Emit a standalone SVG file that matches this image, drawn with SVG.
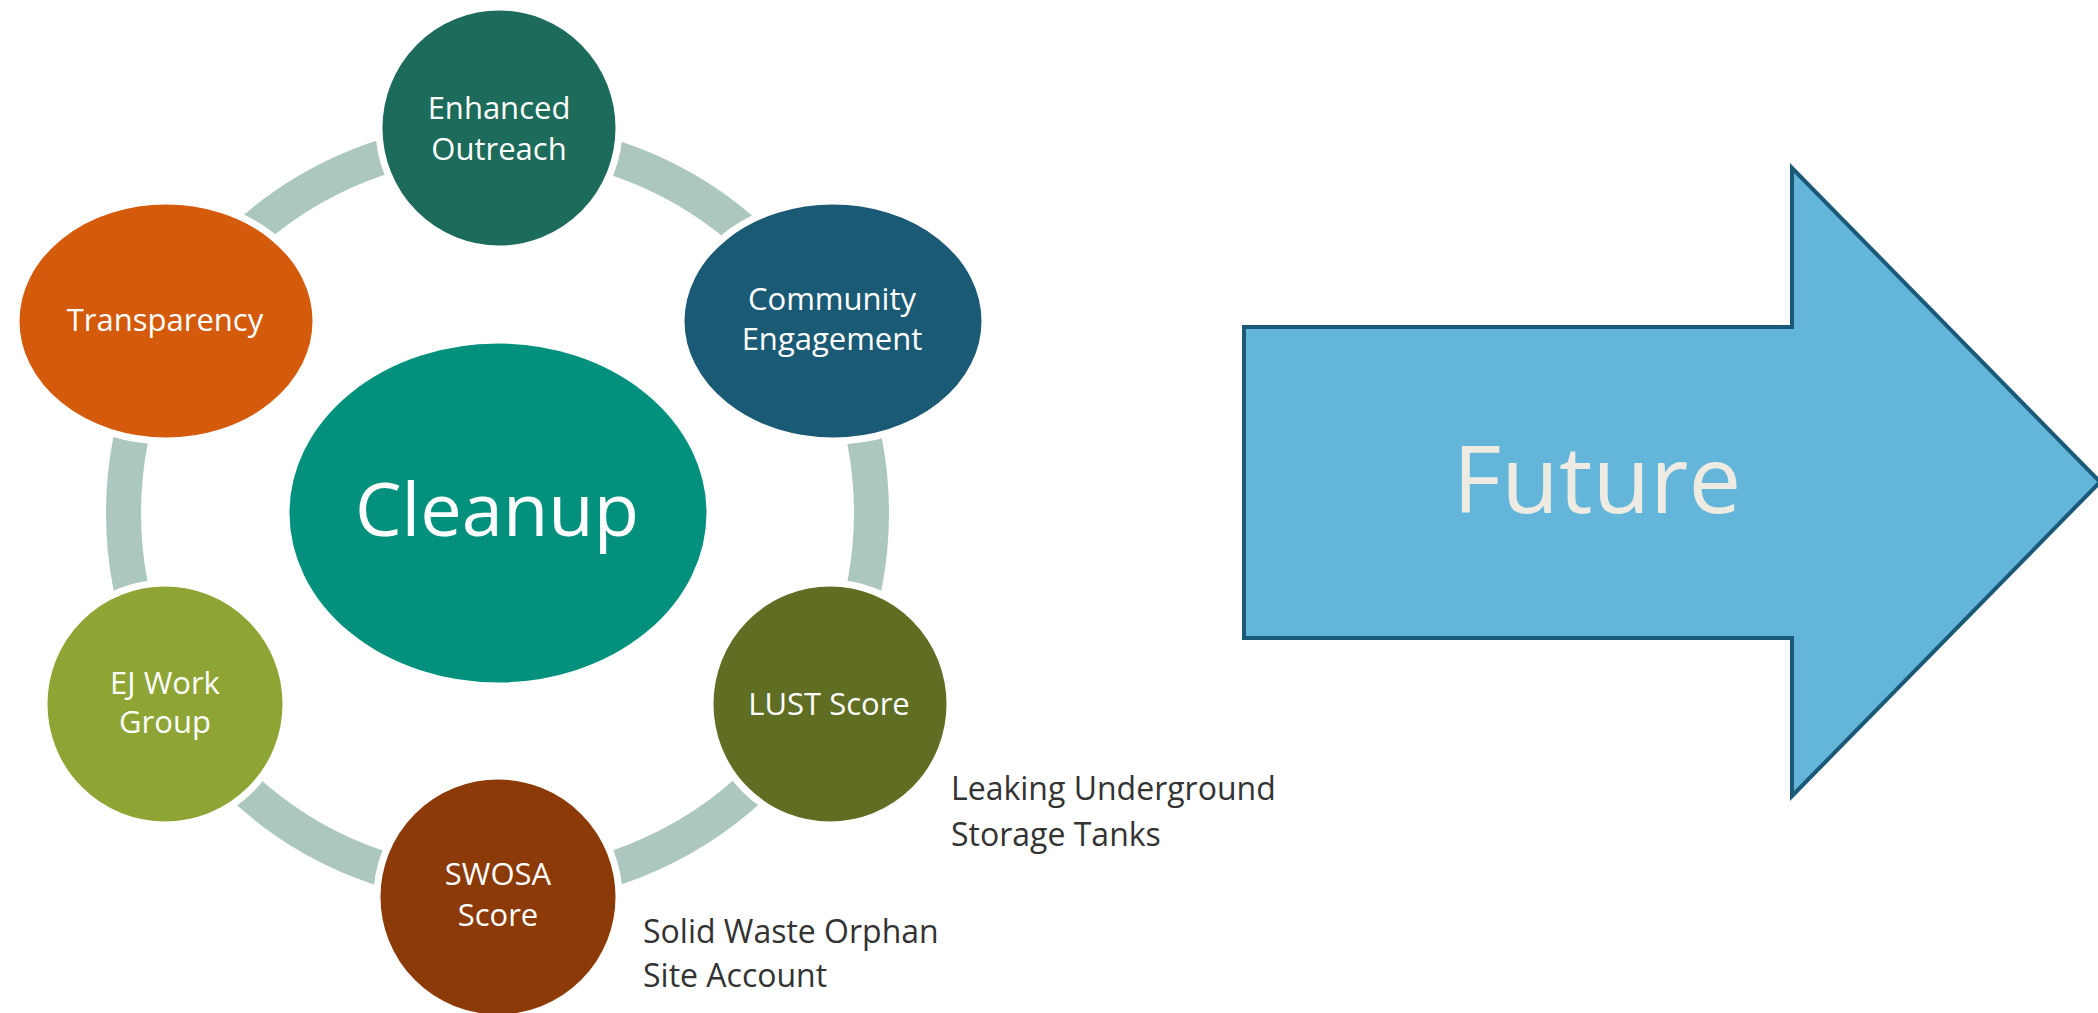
<svg xmlns="http://www.w3.org/2000/svg" width="2098" height="1013" viewBox="0 0 2098 1013">
<style>
.node{stroke:#ffffff;stroke-width:7}
.lbl{font-family:"Open Sans","Noto Sans",sans-serif;fill:#ffffff;text-anchor:middle;font-size:31px}
.cap{font-family:"Open Sans","Noto Sans",sans-serif;fill:#333333;font-size:32px}
</style>
<rect width="2098" height="1013" fill="#ffffff"/>
<g id="connectors">
<circle cx="497.5" cy="513" r="374" fill="none" stroke="#abc7c0" stroke-width="35"/>
</g>
<g id="cleanup">
<ellipse cx="498" cy="513" rx="212" ry="173" fill="#03917d" class="node"/>
<text x="497" y="536" class="lbl" style="font-size:74px">Cleanup</text>
</g>
<g id="enhanced-outreach">
<ellipse cx="499" cy="128" rx="120" ry="121" fill="#1d6b5a" class="node"/>
<text x="499" y="119" class="lbl">Enhanced</text>
<text x="499" y="160" class="lbl">Outreach</text>
</g>
<g id="community-engagement">
<ellipse cx="833" cy="321" rx="152" ry="120" fill="#1b5a75" class="node"/>
<text x="832" y="310" class="lbl">Community</text>
<text x="832" y="350" class="lbl">Engagement</text>
</g>
<g id="transparency">
<ellipse cx="166" cy="321" rx="150" ry="120" fill="#d45a0c" class="node"/>
<text x="165" y="331" class="lbl">Transparency</text>
</g>
<g id="ej-work-group">
<ellipse cx="165" cy="704" rx="121" ry="121" fill="#8ea535" class="node"/>
<text x="165" y="694" class="lbl">EJ Work</text>
<text x="165" y="733" class="lbl">Group</text>
</g>
<g id="lust-score">
<ellipse cx="830" cy="704" rx="120" ry="121" fill="#5f6e23" class="node"/>
<text x="829" y="715" class="lbl">LUST Score</text>
<text x="951" y="800" class="cap">Leaking Underground</text>
<text x="951" y="846" class="cap">Storage Tanks</text>
</g>
<g id="swosa-score">
<ellipse cx="498" cy="897" rx="121" ry="121" fill="#8c3a08" class="node"/>
<text x="498" y="885" class="lbl">SWOSA</text>
<text x="498" y="926" class="lbl">Score</text>
<text x="643" y="943" class="cap">Solid Waste Orphan</text>
<text x="643" y="987" class="cap">Site Account</text>
</g>
<g id="future">
<polygon points="1244,327 1792,327 1792,168 2100,482 1792,796 1792,638 1244,638" fill="#63b5da" stroke="#1a5a78" stroke-width="4"/>
<text x="1597" y="513" class="lbl" style="font-size:94px;fill:#eeebe2">Future</text>
</g>
</svg>
